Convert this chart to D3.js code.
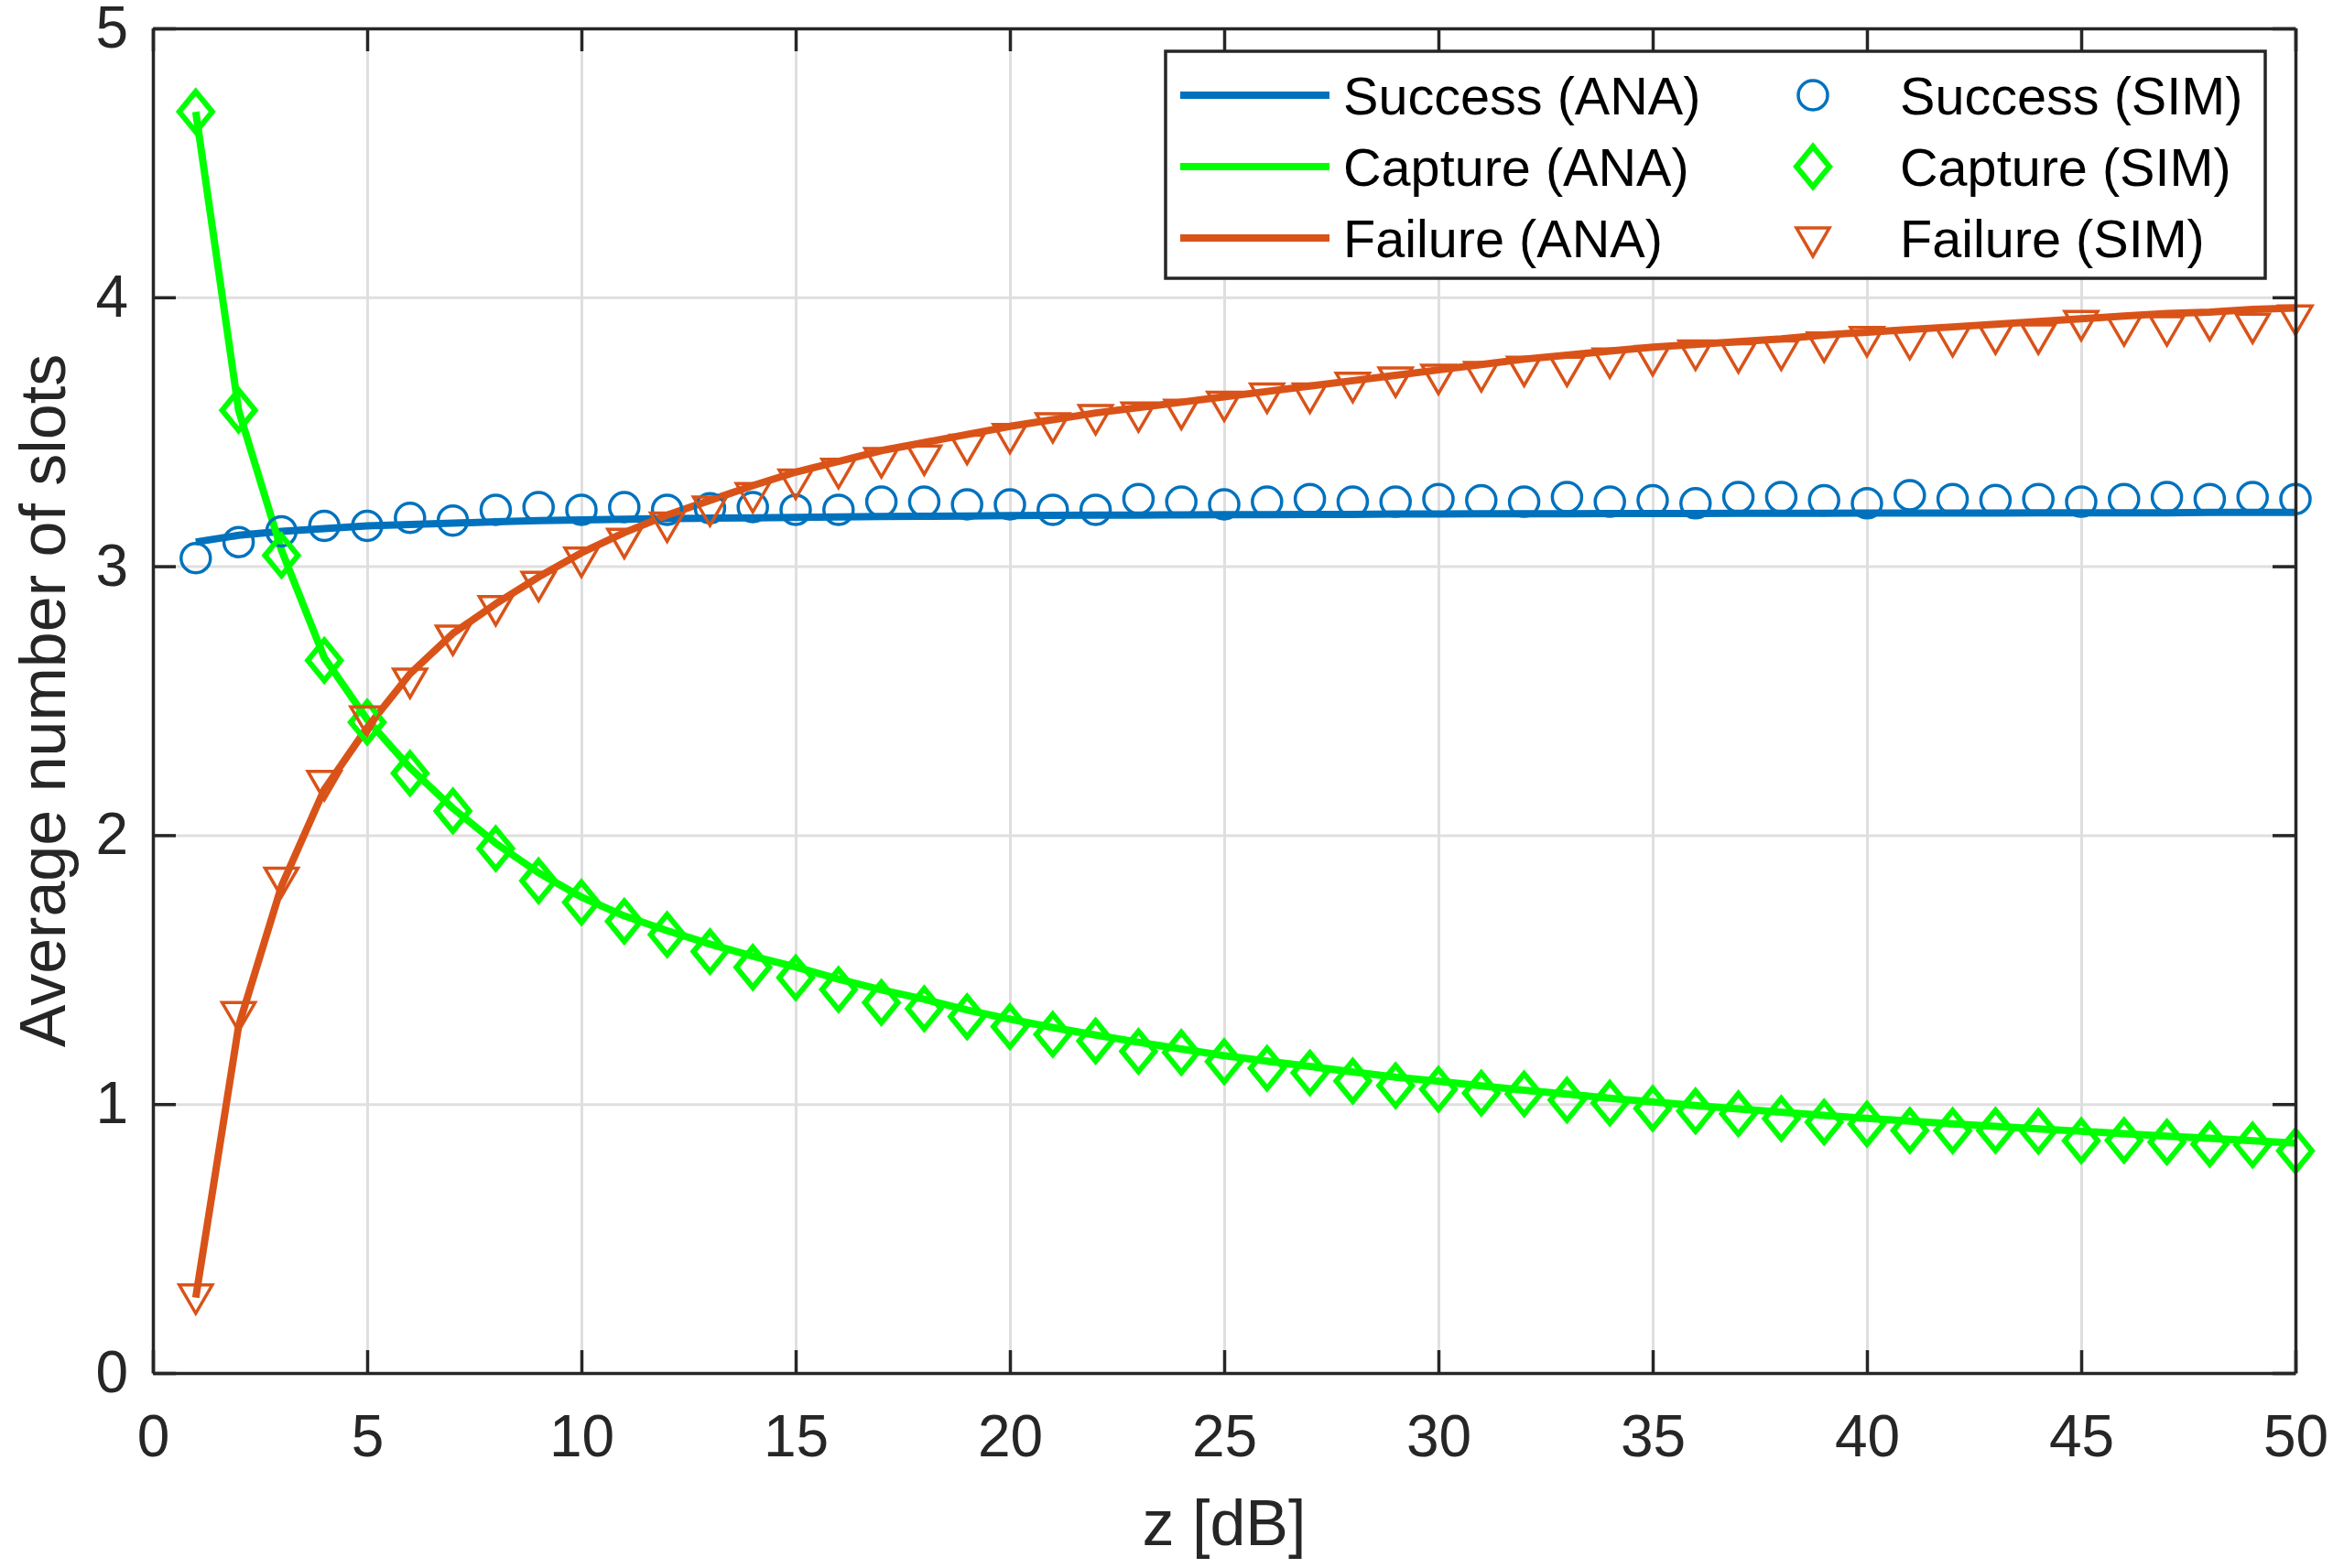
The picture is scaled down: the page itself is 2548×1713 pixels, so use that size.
<!DOCTYPE html>
<html>
<head>
<meta charset="utf-8">
<script src="https://cdnjs.cloudflare.com/ajax/libs/d3/7.8.5/d3.min.js"></script>
<style>
  body { margin: 0; background: #fff; }
  svg { display: block; font-family: "Liberation Sans", Arial, Helvetica, sans-serif; }
  .axis text { fill: #262626; font-size: 64px; }
  .axis path, .axis line { stroke: #262626; stroke-width: 3.5; }
  .grid line { stroke: #dfdfdf; stroke-width: 3; }
  .grid path { display: none; }
</style>
</head>
<body>
<div id="chart"></div>
<script>
// z [dB] from 1 to 50
var zValues = d3.range(1, 51);

var successAna = [3.09, 3.115, 3.13, 3.14, 3.15, 3.155, 3.16, 3.165, 3.17, 3.172,
  3.175, 3.177, 3.179, 3.18, 3.182, 3.183, 3.185, 3.186, 3.187, 3.188,
  3.189, 3.19, 3.19, 3.191, 3.192, 3.192, 3.193, 3.193, 3.194, 3.194,
  3.195, 3.195, 3.195, 3.196, 3.196, 3.196, 3.197, 3.197, 3.197, 3.198,
  3.198, 3.198, 3.198, 3.199, 3.199, 3.199, 3.199, 3.2, 3.2, 3.2];

var captureAna = [4.69, 3.58, 3.06, 2.66, 2.43, 2.25, 2.10, 1.97, 1.86, 1.77,
  1.70, 1.645, 1.595, 1.55, 1.51, 1.465, 1.425, 1.39, 1.35, 1.316,
  1.285, 1.257, 1.23, 1.205, 1.18, 1.16, 1.14, 1.12, 1.10, 1.085,
  1.068, 1.052, 1.037, 1.022, 1.008, 0.995, 0.982, 0.97, 0.958, 0.947,
  0.937, 0.927, 0.917, 0.908, 0.899, 0.89, 0.881, 0.873, 0.864, 0.855];

var failureAna = [0.28, 1.29, 1.81, 2.17, 2.40, 2.60, 2.75, 2.86, 2.96, 3.05,
  3.125, 3.19, 3.245, 3.30, 3.35, 3.39, 3.43, 3.46, 3.49, 3.52,
  3.545, 3.57, 3.59, 3.61, 3.63, 3.65, 3.67, 3.69, 3.71, 3.73,
  3.75, 3.77, 3.785, 3.80, 3.815, 3.825, 3.835, 3.845, 3.86, 3.87,
  3.88, 3.89, 3.90, 3.91, 3.92, 3.93, 3.94, 3.945, 3.955, 3.96];

var successSim = [3.03, 3.09, 3.13, 3.15, 3.15, 3.18, 3.17, 3.21, 3.22, 3.21,
  3.22, 3.21, 3.216, 3.22, 3.21, 3.21, 3.24, 3.24, 3.23, 3.23,
  3.21, 3.21, 3.25, 3.24, 3.23, 3.24, 3.25, 3.24, 3.24, 3.25,
  3.245, 3.24, 3.257, 3.24, 3.245, 3.234, 3.257, 3.257, 3.245, 3.234,
  3.264, 3.25, 3.246, 3.25, 3.24, 3.25, 3.257, 3.25, 3.257, 3.25];

var captureSim = [4.69, 3.58, 3.04, 2.65, 2.42, 2.23, 2.09, 1.95, 1.83, 1.75,
  1.68, 1.63, 1.567, 1.509, 1.47, 1.426, 1.378, 1.355, 1.325, 1.288,
  1.259, 1.235, 1.196, 1.192, 1.158, 1.133, 1.116, 1.086, 1.069, 1.055,
  1.041, 1.038, 1.015, 1.004, 0.984, 0.974, 0.964, 0.946, 0.933, 0.926,
  0.902, 0.901, 0.902, 0.899, 0.864, 0.865, 0.859, 0.851, 0.848, 0.826];

var failureSim = [0.29, 1.34, 1.84, 2.20, 2.44, 2.58, 2.74, 2.85, 2.94, 3.03,
  3.10, 3.16, 3.22, 3.27, 3.32, 3.36, 3.40, 3.41, 3.45, 3.49,
  3.53, 3.56, 3.57, 3.58, 3.61, 3.64, 3.64, 3.68, 3.70, 3.71,
  3.72, 3.74, 3.74, 3.77, 3.78, 3.80, 3.79, 3.80, 3.83, 3.85,
  3.84, 3.85, 3.86, 3.86, 3.91, 3.89, 3.89, 3.91, 3.90, 3.93];

var xTicks = [0, 5, 10, 15, 20, 25, 30, 35, 40, 45, 50];
var yTicks = [0, 1, 2, 3, 4, 5];

var anaLabels = ["Success (ANA)", "Capture (ANA)", "Failure (ANA)"];
var simLabels = ["Success (SIM)", "Capture (SIM)", "Failure (SIM)"];

var blue = "#0072BD", green = "#00FF00", orange = "#D95319";

var svgWidth = 2548;
var svgHeight = 1713;
var margin = { top: 31, right: 41, bottom: 213, left: 167 };
var width = svgWidth - margin.left - margin.right;
var height = svgHeight - margin.top - margin.bottom;

var svg = d3.select("#chart")
  .append("svg")
  .attr("width", svgWidth)
  .attr("height", svgHeight);

var chartGroup = svg.append("g")
  .attr("transform", `translate(${margin.left}, ${margin.top})`);

var xScale = d3.scaleLinear().domain([0, 50]).range([0, width]);
var yScale = d3.scaleLinear().domain([0, 5]).range([height, 0]);

// grid
chartGroup.append("g")
  .attr("class", "grid")
  .attr("transform", `translate(0, ${height})`)
  .call(d3.axisBottom(xScale).tickValues(xTicks).tickSize(-height).tickFormat(""));
chartGroup.append("g")
  .attr("class", "grid")
  .call(d3.axisLeft(yScale).tickValues(yTicks).tickSize(-width).tickFormat(""));

// analytic lines
var series = [
  { name: "success", ana: successAna, sim: successSim, color: blue, marker: "circle" },
  { name: "capture", ana: captureAna, sim: captureSim, color: green, marker: "diamond" },
  { name: "failure", ana: failureAna, sim: failureSim, color: orange, marker: "triangle" }
];

var line = d3.line()
  .x(function(d, i) { return xScale(zValues[i]); })
  .y(function(d) { return yScale(d); });

series.forEach(function(s) {
  chartGroup.append("path")
    .datum(s.ana)
    .attr("fill", "none")
    .attr("stroke", s.color)
    .attr("stroke-width", 8)
    .attr("stroke-linejoin", "round")
    .attr("d", line);
});

// marker shapes
function drawMarker(g, type, color) {
  if (type === "circle") {
    g.append("circle").attr("r", 16)
      .attr("fill", "none").attr("stroke", color).attr("stroke-width", 3.5);
  } else if (type === "diamond") {
    g.append("path").attr("d", "M0,-22L18,0L0,22L-18,0Z")
      .attr("fill", "none").attr("stroke", color).attr("stroke-width", 6)
      .attr("stroke-linejoin", "miter");
  } else {
    g.append("path").attr("d", "M-18,-11L18,-11L0,20Z")
      .attr("fill", "none").attr("stroke", color).attr("stroke-width", 3.5)
      .attr("stroke-linejoin", "miter");
  }
}

series.forEach(function(s) {
  chartGroup.append("g").selectAll("g")
    .data(s.sim)
    .enter()
    .append("g")
    .attr("transform", function(d, i) { return `translate(${xScale(zValues[i])}, ${yScale(d)})`; })
    .each(function() { drawMarker(d3.select(this), s.marker, s.color); });
});

// axes (box with inward ticks)
chartGroup.append("g")
  .attr("class", "axis")
  .attr("transform", `translate(0, ${height})`)
  .call(d3.axisBottom(xScale).tickValues(xTicks).tickFormat(d3.format("d"))
    .tickSizeInner(-25).tickSizeOuter(0).tickPadding(46));
chartGroup.append("g")
  .attr("class", "axis")
  .call(d3.axisLeft(yScale).tickValues(yTicks).tickFormat(d3.format("d"))
    .tickSizeInner(-25).tickSizeOuter(0).tickPadding(27));
chartGroup.append("g")
  .attr("class", "axis")
  .call(d3.axisTop(xScale).tickValues(xTicks).tickSizeInner(-25).tickSizeOuter(0).tickFormat(""));
chartGroup.append("g")
  .attr("class", "axis")
  .attr("transform", `translate(${width}, 0)`)
  .call(d3.axisRight(yScale).tickValues(yTicks).tickSizeInner(-25).tickSizeOuter(0).tickFormat(""));

// axis labels
svg.append("text")
  .attr("x", margin.left + width / 2)
  .attr("y", 1688)
  .attr("text-anchor", "middle")
  .attr("font-size", 70)
  .attr("fill", "#262626")
  .text("z [dB]");

svg.append("text")
  .attr("transform", `translate(71, ${margin.top + height / 2}) rotate(-90)`)
  .attr("text-anchor", "middle")
  .attr("font-size", 70)
  .attr("fill", "#262626")
  .text("Average number of slots");

// legend
var legend = svg.append("g");
legend.append("rect")
  .attr("x", 1273).attr("y", 56)
  .attr("width", 1201).attr("height", 248)
  .attr("fill", "#fff")
  .attr("stroke", "#262626")
  .attr("stroke-width", 3.5);

series.forEach(function(s, i) {
  var rowY = 104 + i * 78;
  legend.append("line")
    .attr("x1", 1289).attr("x2", 1452)
    .attr("y1", rowY).attr("y2", rowY)
    .attr("stroke", s.color).attr("stroke-width", 8);
  legend.append("text")
    .attr("x", 1467).attr("y", rowY + 21)
    .attr("font-size", 57.6).attr("fill", "#000")
    .text(anaLabels[i]);
  var mg = legend.append("g").attr("transform", `translate(1980, ${rowY})`);
  drawMarker(mg, s.marker, s.color);
  legend.append("text")
    .attr("x", 2075).attr("y", rowY + 21)
    .attr("font-size", 57.6).attr("fill", "#000")
    .text(simLabels[i]);
});
</script>
</body>
</html>
